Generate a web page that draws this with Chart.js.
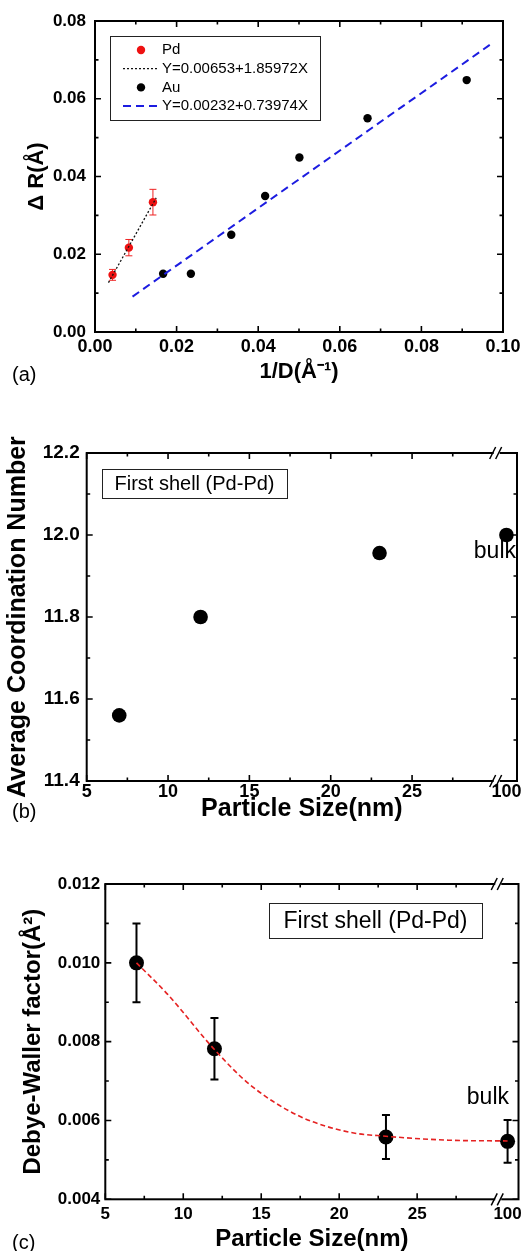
<!DOCTYPE html>
<html>
<head>
<meta charset="utf-8">
<script src="https://cdn.jsdelivr.net/npm/chart.js@4.4.1/dist/chart.umd.min.js"></script>
<style>
  html, body { margin: 0; padding: 0; background: #fff; }
  body { width: 526px; height: 1251px; position: relative; overflow: hidden; }
  canvas { position: absolute; left: 0; }
</style>
</head>
<body>
<canvas id="chartA" width="526" height="410" style="top:0"></canvas>
<canvas id="chartB" width="526" height="410" style="top:420px"></canvas>
<canvas id="chartC" width="526" height="414" style="top:840px"></canvas>
<script>
// ---- panel (a): delta R vs 1/D ----
const pdInvD = [0.0043, 0.0083, 0.0142];
const pdDeltaR = [0.0147, 0.0217, 0.0334];
const pdErr = [0.0014, 0.0021, 0.0033];
const pdFitX = [0.0033, 0.0150];
const pdFitY = [0.0127, 0.0345];
const auInvD = [0.0167, 0.0235, 0.0334, 0.0417, 0.0501, 0.0668, 0.0911];
const auDeltaR = [0.0150, 0.0150, 0.0250, 0.0350, 0.0449, 0.0550, 0.0648];
const auFitX = [0.0092, 0.0975];
const auFitY = [0.0091, 0.0744];
const legendLabels = ['Pd', 'Y=0.00653+1.85972X', 'Au', 'Y=0.00232+0.73974X'];
const xTicksA = [0, 0.02, 0.04, 0.06, 0.08, 0.10];
const xMinorA = [0.01, 0.03, 0.05, 0.07, 0.09];
const yTicksA = [0, 0.02, 0.04, 0.06, 0.08];
const yMinorA = [0.01, 0.03, 0.05, 0.07];

// ---- panels (b) and (c): vs particle size, 100 nm = bulk ----
const sizes = [7, 12, 23, 100];
const coordNum = [11.56, 11.80, 11.956, 12.0];
const dwFactor = [0.0100, 0.00782, 0.00558, 0.00547];
const dwErr = [0.0010, 0.00078, 0.00056, 0.00054];
const dwCurveX = [7, 9, 12, 14.3, 17.5, 20.7, 23, 27, 100];
const dwCurveY = [0.0100, 0.0092, 0.0078, 0.0069, 0.0061, 0.0057, 0.0056, 0.0055, 0.00548];
const sizeTicks = [5, 10, 15, 20, 25, 100];
const sizeMajor = [5, 10, 15, 20, 25];
const sizeMinor = [7.5, 12.5, 17.5, 22.5, 27.5];
const yTicksB = [11.4, 11.6, 11.8, 12.0, 12.2];
const yMinorB = [11.5, 11.7, 11.9, 12.1];
const yTicksC = [0.004, 0.006, 0.008, 0.010, 0.012];
const yMinorC = [0.005, 0.007, 0.009, 0.011];

// broken x axis: bulk (100 nm) is drawn just past the break
const BREAK_AT = 30.2;
const BULK_POS = 30.8;
const axisPos = s => (s >= 100 ? BULK_POS : s);
const sizeLabel = v => (v === BULK_POS ? '100' : String(v));

const FONT = '"Liberation Sans", Arial, Helvetica, sans-serif';
Chart.defaults.font.family = FONT;
Chart.defaults.color = '#000';
Chart.defaults.animation = false;

const pts = (xs, ys, f = v => v) => xs.map((x, i) => ({ x: f(x), y: ys[i] }));

// frame with inward ticks on all four sides, plus axis break marks
const framePlugin = {
  id: 'frame',
  afterDraw(chart, args, o) {
    const { ctx, chartArea: a, scales: { x, y } } = chart;
    ctx.save();
    ctx.strokeStyle = '#000';
    ctx.lineWidth = 2;
    ctx.strokeRect(a.left, a.top, a.right - a.left, a.bottom - a.top);
    ctx.lineWidth = 1.6;
    const xt = (vals, len) => vals.forEach(v => {
      const p = x.getPixelForValue(v);
      ctx.beginPath();
      ctx.moveTo(p, a.bottom); ctx.lineTo(p, a.bottom - len);
      ctx.moveTo(p, a.top); ctx.lineTo(p, a.top + len);
      ctx.stroke();
    });
    const yt = (vals, len) => vals.forEach(v => {
      const p = y.getPixelForValue(v);
      ctx.beginPath();
      ctx.moveTo(a.left, p); ctx.lineTo(a.left + len, p);
      ctx.moveTo(a.right, p); ctx.lineTo(a.right - len, p);
      ctx.stroke();
    });
    xt(o.majorX, 6); xt(o.minorX, 3.5);
    yt(o.majorY, 6); yt(o.minorY, 3.5);
    if (o.breakAt != null) {
      const p = x.getPixelForValue(o.breakAt);
      [a.top, a.bottom].forEach(yy => {
        ctx.fillStyle = '#fff';
        ctx.fillRect(p - 3, yy - 2, 6, 4);
        ctx.lineWidth = 1.5;
        ctx.beginPath();
        ctx.moveTo(p - 7, yy + 6); ctx.lineTo(p - 1, yy - 6);
        ctx.moveTo(p - 1, yy + 6); ctx.lineTo(p + 5, yy - 6);
        ctx.stroke();
      });
    }
    ctx.restore();
  }
};

const errorBarPlugin = {
  id: 'errorBars',
  beforeDatasetsDraw(chart, args, o) {
    if (!o.errors) return;
    const { ctx, scales: { x, y } } = chart;
    const ds = chart.data.datasets[o.datasetIndex];
    ctx.save();
    ctx.strokeStyle = o.color;
    ctx.lineWidth = o.width;
    ds.data.forEach((p, i) => {
      const px = x.getPixelForValue(p.x);
      const t = y.getPixelForValue(p.y + o.errors[i]);
      const b = y.getPixelForValue(p.y - o.errors[i]);
      ctx.beginPath();
      ctx.moveTo(px, t); ctx.lineTo(px, b);
      ctx.moveTo(px - o.cap, t); ctx.lineTo(px + o.cap, t);
      ctx.moveTo(px - o.cap, b); ctx.lineTo(px + o.cap, b);
      ctx.stroke();
    });
    ctx.restore();
  }
};

// boxed legend, text boxes, panel letters and "bulk" notes
const notesPlugin = {
  id: 'notes',
  afterDraw(chart, args, o) {
    const ctx = chart.ctx;
    ctx.save();
    ctx.textBaseline = 'middle';
    if (o.legend) {
      const L = o.legend;
      ctx.strokeStyle = '#222';
      ctx.lineWidth = 1;
      ctx.strokeRect(L.box[0] + 0.5, L.box[1] + 0.5, L.box[2], L.box[3]);
      ctx.font = '15px ' + FONT;
      chart.data.datasets.forEach((ds, i) => {
        const ry = L.box[1] + L.rowStart + i * L.rowGap;
        if (ds.showLine) {
          ctx.strokeStyle = ds.borderColor;
          ctx.lineWidth = ds.borderWidth;
          ctx.setLineDash(ds.borderDash || []);
          ctx.beginPath();
          ctx.moveTo(L.symX - 18, ry); ctx.lineTo(L.symX + 17, ry);
          ctx.stroke();
          ctx.setLineDash([]);
        } else {
          ctx.fillStyle = ds.backgroundColor;
          ctx.beginPath();
          ctx.arc(L.symX, ry, ds.pointRadius, 0, Math.PI * 2);
          ctx.fill();
        }
        ctx.fillStyle = '#000';
        ctx.textAlign = 'left';
        ctx.fillText(ds.label, L.textX, ry);
      });
    }
    (o.boxes || []).forEach(b => {
      ctx.strokeStyle = '#222';
      ctx.lineWidth = 1;
      ctx.strokeRect(b.rect[0] + 0.5, b.rect[1] + 0.5, b.rect[2], b.rect[3]);
      ctx.font = b.size + 'px ' + FONT;
      ctx.fillStyle = '#000';
      ctx.textAlign = 'center';
      ctx.fillText(b.text, b.rect[0] + b.rect[2] / 2, b.rect[1] + b.rect[3] / 2 + 1);
    });
    (o.texts || []).forEach(t => {
      ctx.font = t.size + 'px ' + FONT;
      ctx.fillStyle = '#000';
      ctx.textAlign = t.align || 'left';
      ctx.fillText(t.text, t.x, t.y);
    });
    ctx.restore();
  }
};

function axes(c) {
  return {
    x: {
      type: 'linear', min: c.xMin, max: c.xMax,
      grid: { display: false, drawTicks: false }, border: { display: false },
      afterBuildTicks: s => { s.ticks = c.xTicks.map(v => ({ value: v })); },
      afterFit: s => { s.height = c.xHeight; s.paddingLeft = 0; s.paddingRight = 0; },
      ticks: { autoSkip: false, maxRotation: 0, padding: c.xTickPad,
               font: { size: c.xTickSize, weight: 'bold' }, callback: c.xLabel },
      title: { display: true, text: c.xTitle, font: { size: c.xTitleSize, weight: 'bold' },
               padding: { top: 0, bottom: c.xTitlePad } }
    },
    y: {
      type: 'linear', min: c.yMin, max: c.yMax,
      grid: { display: false, drawTicks: false }, border: { display: false },
      afterBuildTicks: s => { s.ticks = c.yTicks.map(v => ({ value: v })); },
      afterFit: s => { s.width = c.yWidth; s.paddingTop = 0; s.paddingBottom = 0; },
      ticks: { autoSkip: false, padding: c.yTickPad,
               font: { size: c.yTickSize, weight: 'bold' }, callback: c.yLabel },
      title: { display: true, text: c.yTitle, font: { size: c.yTitleSize, weight: 'bold' },
               padding: { top: c.yTitlePad, bottom: 0 } }
    }
  };
}

const common = {
  responsive: false,
  animation: false,
  events: [],
};

// ---- (a) ----
new Chart(document.getElementById('chartA'), {
  type: 'scatter',
  data: {
    datasets: [
      { label: legendLabels[0], data: pts(pdInvD, pdDeltaR), backgroundColor: '#ee1111',
        borderColor: '#ee1111', pointRadius: 4.2, pointBorderWidth: 0, order: 1 },
      { label: legendLabels[1], data: pts(pdFitX, pdFitY), showLine: true, borderColor: '#111',
        borderWidth: 1.3, borderDash: [2, 2], pointRadius: 0, order: 0 },
      { label: legendLabels[2], data: pts(auInvD, auDeltaR), backgroundColor: '#000',
        borderColor: '#000', pointRadius: 4.2, pointBorderWidth: 0, order: 1 },
      { label: legendLabels[3], data: pts(auFitX, auFitY), showLine: true, borderColor: '#1c1ce0',
        borderWidth: 2, borderDash: [8, 5], pointRadius: 0, order: 0 }
    ]
  },
  options: {
    ...common,
    layout: { padding: { left: 0, top: 21, right: 23, bottom: 18 } },
    scales: axes({
      xMin: 0, xMax: 0.10, xTicks: xTicksA, xHeight: 60, xTickPad: 4, xTickSize: 18,
      xLabel: v => v.toFixed(2), xTitle: '1/D(Å\u207B\u00B9)', xTitleSize: 22, xTitlePad: 7,
      yMin: 0, yMax: 0.08, yTicks: yTicksA, yWidth: 95, yTickPad: 9, yTickSize: 17,
      yLabel: v => v.toFixed(2), yTitle: 'Δ R(Å)', yTitleSize: 22, yTitlePad: 24
    }),
    plugins: {
      legend: { display: false }, tooltip: { enabled: false },
      frame: { majorX: xTicksA, minorX: xMinorA, majorY: yTicksA, minorY: yMinorA },
      errorBars: { datasetIndex: 0, errors: pdErr, color: '#e22', width: 1, cap: 3.5 },
      notes: {
        legend: { box: [110, 36, 210, 84], rowStart: 14, rowGap: 18.7, symX: 141, textX: 162 },
        texts: [{ text: '(a)', x: 12, y: 375, size: 20 }]
      }
    }
  },
  plugins: [errorBarPlugin, framePlugin, notesPlugin]
});

// ---- (b) ----
new Chart(document.getElementById('chartB'), {
  type: 'scatter',
  data: {
    datasets: [
      { label: 'CN', data: pts(sizes, coordNum, axisPos), backgroundColor: '#000',
        pointRadius: 7.3, pointBorderWidth: 0 }
    ]
  },
  options: {
    ...common,
    layout: { padding: { left: 0, top: 33, right: 9, bottom: 0 } },
    scales: axes({
      xMin: 5, xMax: 31.45, xTicks: sizeTicks.map(axisPos), xHeight: 49, xTickPad: 0, xTickSize: 18,
      xLabel: sizeLabel, xTitle: 'Particle Size(nm)', xTitleSize: 25, xTitlePad: 6,
      yMin: 11.4, yMax: 12.2, yTicks: yTicksB, yWidth: 86.7, yTickPad: 7, yTickSize: 19,
      yLabel: v => v.toFixed(1), yTitle: 'Average Coordination Number', yTitleSize: 25, yTitlePad: 3
    }),
    plugins: {
      legend: { display: false }, tooltip: { enabled: false },
      frame: { majorX: sizeMajor, minorX: sizeMinor, majorY: yTicksB, minorY: yMinorB, breakAt: BREAK_AT },
      notes: {
        boxes: [{ text: 'First shell (Pd-Pd)', rect: [102, 49, 185, 29], size: 20 }],
        texts: [{ text: '(b)', x: 12, y: 392, size: 20 },
                { text: 'bulk', x: 516, y: 132, size: 23, align: 'right' }]
      }
    }
  },
  plugins: [framePlugin, notesPlugin]
});

// ---- (c) ----
new Chart(document.getElementById('chartC'), {
  type: 'scatter',
  data: {
    datasets: [
      { label: 'fit', data: pts(dwCurveX, dwCurveY, axisPos), showLine: true, borderColor: '#e52222',
        borderWidth: 1.6, borderDash: [5, 3], pointRadius: 0, cubicInterpolationMode: 'monotone' },
      { label: 'DW', data: pts(sizes, dwFactor, axisPos), backgroundColor: '#000',
        pointRadius: 7.5, pointBorderWidth: 0 }
    ]
  },
  options: {
    ...common,
    layout: { padding: { left: 0, top: 44, right: 7, bottom: 0 } },
    scales: axes({
      xMin: 5, xMax: 31.5, xTicks: sizeTicks.map(axisPos), xHeight: 54.7, xTickPad: 5, xTickSize: 17,
      xLabel: sizeLabel, xTitle: 'Particle Size(nm)', xTitleSize: 24, xTitlePad: 0,
      yMin: 0.004, yMax: 0.012, yTicks: yTicksC, yWidth: 105.3, yTickPad: 5, yTickSize: 17,
      yLabel: v => v.toFixed(3), yTitle: 'Debye-Waller factor(Å\u00B2)', yTitleSize: 24, yTitlePad: 19
    }),
    plugins: {
      legend: { display: false }, tooltip: { enabled: false },
      frame: { majorX: sizeMajor, minorX: sizeMinor, majorY: yTicksC, minorY: yMinorC, breakAt: BREAK_AT },
      errorBars: { datasetIndex: 1, errors: dwErr, color: '#000', width: 2, cap: 4 },
      notes: {
        boxes: [{ text: 'First shell (Pd-Pd)', rect: [269, 63, 213, 35], size: 23 }],
        texts: [{ text: '(c)', x: 12, y: 403, size: 20 },
                { text: 'bulk', x: 509, y: 258, size: 23, align: 'right' }]
      }
    }
  },
  plugins: [errorBarPlugin, framePlugin, notesPlugin]
});
</script>
</body>
</html>
